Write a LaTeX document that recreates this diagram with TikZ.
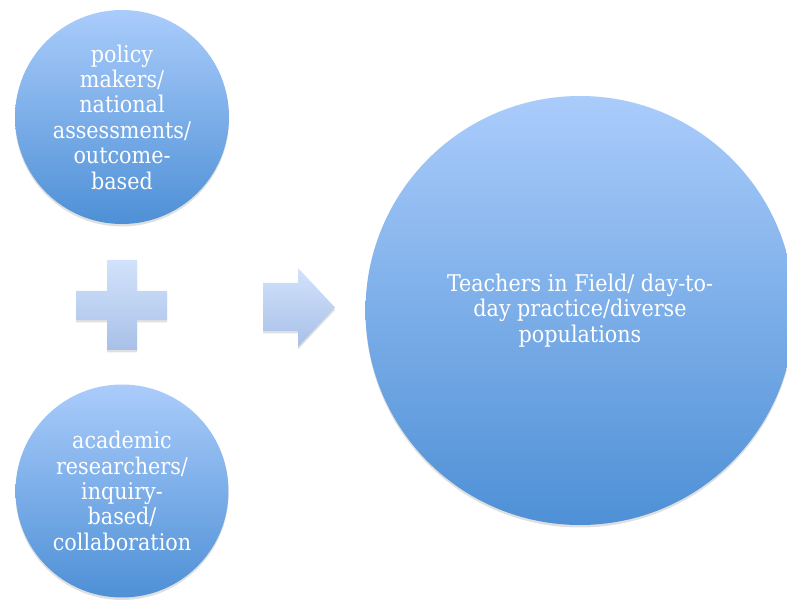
\documentclass[tikz,border=0pt]{standalone}
\usepackage{fontspec}
\setmainfont{DejaVu Serif Condensed}
\usetikzlibrary{shadows}
\definecolor{ctop}{RGB}{170,204,251}
\definecolor{cbot}{RGB}{78,144,214}
\definecolor{ptop}{RGB}{210,226,251}
\definecolor{pbot}{RGB}{168,192,232}
\tikzset{
  bubble/.style={circle, top color=ctop, bottom color=cbot, draw=none,
    text=white, align=center, inner sep=0pt,
    drop shadow={opacity=0.25, shadow xshift=0pt, shadow yshift=-2.5pt},
    font=\fontsize{23}{25.4}\selectfont},
  symb/.style={top color=ptop, bottom color=pbot, draw=none,
    drop shadow={opacity=0.25, shadow xshift=0pt, shadow yshift=-2.5pt}},
}
\begin{document}
\begin{tikzpicture}[x=1pt,y=-1pt]
\useasboundingbox (0,0) rectangle (787,601);
\clip (0,0) rectangle (787,601);
\node[bubble, minimum size=214pt] (policy) at (122,117)
  {policy\\makers/\\national\\assessments/\\outcome-\\based};
\node[bubble, minimum size=213pt] (academic) at (122,491)
  {academic\\researchers/\\inquiry-\\based/\\collaboration};
\node[bubble, minimum size=429pt] (teachers) at (580,310.5)
  {Teachers in Field/ day-to-\\day practice/diverse\\populations};
% plus sign
\path[symb] (107,260) -- (137,260) -- (137,291) -- (167,291) -- (167,320)
  -- (137,320) -- (137,350) -- (107,350) -- (107,320) -- (76,320)
  -- (76,291) -- (107,291) -- cycle;
\coordinate (plus) at (121.5,305);
% arrow
\path[symb] (263,283) -- (298,283) -- (298,268) -- (335,307.5) -- (298,347)
  -- (298,331) -- (263,331) -- cycle;
\coordinate (arrow) at (299,307);
\end{tikzpicture}
\end{document}
